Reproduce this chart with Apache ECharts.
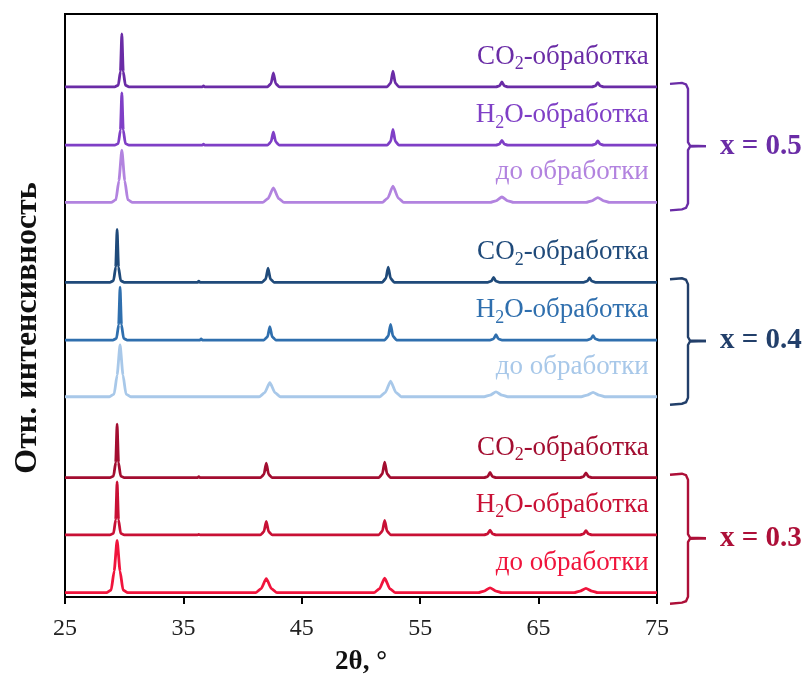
<!DOCTYPE html>
<html>
<head>
<meta charset="utf-8">
<script src="https://cdn.jsdelivr.net/npm/echarts@6/dist/echarts.min.js"></script>
<style>
  html, body { margin: 0; padding: 0; background: #fff; }
  #main { width: 810px; height: 675px; }
</style>
</head>
<body>
<div id="main"></div>
<script>
// Дифрактограммы, x = 0.3 / 0.4 / 0.5, до и после обработки

var xTicks = [25, 35, 45, 55, 65, 75];
var groupNames = ['x = 0.5', 'x = 0.4', 'x = 0.3'];
var treatNames = ['CO2', 'H2O', 'raw'];

// сдвиги базовых линий (снизу вверх: 0.3 до, H2O, CO2, 0.4 ..., 0.5 ...)
var offsets05 = [945, 837, 731];
var offsets04 = [583, 476, 371];
var offsets03 = [221, 115, 8];

// [2θ, отн. интенсивность]
var p05co2 = [[25,0],[29.2,0],[29.5,3],[29.68,28],[29.8,98],[29.92,28],[30.1,3],[30.4,0],[36.6,0],[36.7,2],[36.8,0],[42.1,0],[42.4,6],[42.6,26],[42.8,6],[43.1,0],[52.2,0],[52.5,7],[52.7,29],[52.9,7],[53.2,0],[61.4,0],[61.7,2],[61.9,9],[62.1,2],[62.4,0],[69.5,0],[69.8,2],[70.0,8],[70.2,2],[70.5,0],[75,0]];
var p05h2o = [[25,0],[29.2,0],[29.5,3],[29.68,28],[29.8,97],[29.92,28],[30.1,3],[30.4,0],[36.6,0],[36.7,2],[36.8,0],[42.1,0],[42.4,6],[42.6,24],[42.8,6],[43.1,0],[52.2,0],[52.5,7],[52.7,29],[52.9,7],[53.2,0],[61.4,0],[61.7,2],[61.9,9],[62.1,2],[62.4,0],[69.5,0],[69.8,2],[70.0,8],[70.2,2],[70.5,0],[75,0]];
var p05raw = [[25,0],[28.9,0],[29.3,5],[29.55,40],[29.8,97],[30.05,40],[30.3,5],[30.7,0],[41.7,0],[42.15,7],[42.6,27],[43.05,7],[43.5,0],[51.8,0],[52.25,8],[52.7,30],[53.15,8],[53.6,0],[60.9,0],[61.4,3],[61.9,10],[62.4,3],[62.9,0],[69.0,0],[69.5,3],[70.0,9],[70.5,3],[71.0,0],[75,0]];

var p04co2 = [[25,0],[28.8,0],[29.1,3],[29.28,28],[29.4,98],[29.52,28],[29.7,3],[30.0,0],[36.2,0],[36.3,2],[36.4,0],[41.65,0],[41.95,6],[42.15,26],[42.35,6],[42.65,0],[51.8,0],[52.1,7],[52.3,28],[52.5,7],[52.8,0],[60.7,0],[61.0,2],[61.2,9],[61.4,2],[61.7,0],[68.8,0],[69.1,2],[69.3,8],[69.5,2],[69.8,0],[75,0]];
var p04h2o = [[25,0],[29.05,0],[29.35,3],[29.53,28],[29.65,98],[29.77,28],[29.95,3],[30.25,0],[36.4,0],[36.5,2],[36.6,0],[41.8,0],[42.1,6],[42.3,25],[42.5,6],[42.8,0],[52.0,0],[52.3,7],[52.5,29],[52.7,7],[53.0,0],[60.9,0],[61.2,2],[61.4,10],[61.6,2],[61.9,0],[69.1,0],[69.4,2],[69.6,8],[69.8,2],[70.1,0],[75,0]];
var p04raw = [[25,0],[28.75,0],[29.15,5],[29.4,40],[29.65,96],[29.9,40],[30.15,5],[30.55,0],[41.4,0],[41.85,7],[42.3,26],[42.75,7],[43.2,0],[51.6,0],[52.05,8],[52.5,29],[52.95,8],[53.4,0],[60.4,0],[60.9,3],[61.4,9],[61.9,3],[62.4,0],[68.6,0],[69.1,3],[69.6,8],[70.1,3],[70.6,0],[75,0]];

var p03co2 = [[25,0],[28.8,0],[29.1,3],[29.28,28],[29.4,99],[29.52,28],[29.7,3],[30.0,0],[36.2,0],[36.3,2],[36.4,0],[41.5,0],[41.8,6],[42.0,27],[42.2,6],[42.5,0],[51.5,0],[51.8,7],[52.0,29],[52.2,7],[52.5,0],[60.4,0],[60.7,2],[60.9,10],[61.1,2],[61.4,0],[68.5,0],[68.8,2],[69.0,9],[69.2,2],[69.5,0],[75,0]];
var p03h2o = [[25,0],[28.8,0],[29.1,3],[29.28,28],[29.4,98],[29.52,28],[29.7,3],[30.0,0],[36.2,0],[36.3,1],[36.4,0],[41.5,0],[41.8,6],[42.0,25],[42.2,6],[42.5,0],[51.5,0],[51.8,7],[52.0,27],[52.2,7],[52.5,0],[60.4,0],[60.7,2],[60.9,9],[61.1,2],[61.4,0],[68.5,0],[68.8,2],[69.0,8],[69.2,2],[69.5,0],[75,0]];
var p03raw = [[25,0],[28.5,0],[28.9,5],[29.15,40],[29.4,97],[29.65,40],[29.9,5],[30.3,0],[41.1,0],[41.55,7],[42.0,26],[42.45,7],[42.9,0],[51.1,0],[51.55,7],[52.0,27],[52.45,7],[52.9,0],[59.9,0],[60.4,3],[60.9,9],[61.4,3],[61.9,0],[68.0,0],[68.5,3],[69.0,8],[69.5,3],[70.0,0],[75,0]];

var colors05 = ['#6a2ca6', '#7f3fc6', '#b283df'];
var colors04 = ['#1f4a7a', '#2f6fae', '#a8c8e9'];
var colors03 = ['#a30d30', '#c81035', '#f0143c'];
var groupColors = ['#6a2ca6', '#223f6a', '#ad0f38'];

var groups = [
    { patterns: [p05co2, p05h2o, p05raw], offsets: offsets05, colors: colors05 },
    { patterns: [p04co2, p04h2o, p04raw], offsets: offsets04, colors: colors04 },
    { patterns: [p03co2, p03h2o, p03raw], offsets: offsets03, colors: colors03 }
];

var serif = '"Liberation Serif", "Times New Roman", serif';

var series = [];
groups.forEach(function (g, gi) {
    g.patterns.forEach(function (p, pi) {
        var off = g.offsets[pi];
        series.push({
            name: groupNames[gi] + ' ' + treatNames[pi],
            type: 'line',
            showSymbol: false,
            smooth: 0.2,
            smoothMonotone: 'x',
            lineStyle: { color: g.colors[pi], width: 2.8 },
            data: p.map(function (d) { return [d[0], d[1] + off]; }),
            z: 3
        });
    });
});

var dom = document.getElementById('main');
var myChart = echarts.init(dom, null, { renderer: 'canvas' });

var option = {
    animation: false,
    grid: {
        left: 65, right: 153, top: 14, bottom: 78,
        outerBoundsMode: 'none',
        show: true, borderColor: '#000', borderWidth: 2
    },
    xAxis: {
        type: 'value',
        min: 25,
        max: 75,
        name: '2θ, °',
        nameLocation: 'middle',
        nameGap: 52,
        nameTextStyle: { fontFamily: serif, fontWeight: 'bold', fontSize: 27, color: '#111' },
        axisLine: { lineStyle: { color: '#000', width: 2 } },
        axisTick: { show: true, length: 7, lineStyle: { color: '#000', width: 2 }, customValues: xTicks },
        axisLabel: { fontFamily: serif, fontSize: 24, color: '#222', margin: 20, customValues: xTicks },
        splitLine: { show: false }
    },
    yAxis: {
        type: 'value',
        min: 0,
        max: 1080,
        axisLine: { show: true, lineStyle: { color: '#000', width: 2 } },
        axisTick: { show: false },
        axisLabel: { show: false },
        splitLine: { show: false }
    },
    series: series
};

myChart.setOption(option);

// подписи и скобки
var richLabel = {
    a: { fontFamily: serif, fontSize: 27 },
    s: { fontFamily: serif, fontSize: 18, verticalAlign: 'bottom', padding: [16, 0, 0, 0] }
};
var labelTexts = ['{a|CO}{s|2}{a|-обработка}', '{a|H}{s|2}{a|O-обработка}', '{a|до обработки}'];

var graphics = [{
    type: 'text',
    x: 28, y: 328,
    rotation: Math.PI / 2,
    style: {
        text: 'Отн. интенсивность',
        font: 'bold 32px ' + serif,
        fill: '#111',
        align: 'center',
        verticalAlign: 'middle'
    }
}];
groups.forEach(function (g, gi) {
    g.offsets.forEach(function (off, pi) {
        var pt = myChart.convertToPixel({ gridIndex: 0 }, [74.3, off + 56]);
        graphics.push({
            type: 'text',
            x: pt[0], y: pt[1],
            style: {
                text: labelTexts[pi],
                rich: richLabel,
                fill: g.colors[pi],
                align: 'right',
                verticalAlign: 'middle'
            },
            z: 10
        });
    });
    var top = myChart.convertToPixel({ gridIndex: 0 }, [75, g.offsets[0]])[1] - 4;
    var bot = myChart.convertToPixel({ gridIndex: 0 }, [75, g.offsets[2]])[1] + 7 + (gi === 2 ? 3 : 0);
    var mid = (top + bot) / 2;
    var col = groupColors[gi];
    graphics.push({
        type: 'polyline',
        shape: { points: [[670, top + 1], [682, top], [686, top + 1.5], [688, top + 6], [688, mid - 4], [690, mid - 0.5], [706, mid]] },
        style: { stroke: col, lineWidth: 2.4, fill: null }
    });
    graphics.push({
        type: 'polyline',
        shape: { points: [[706, mid], [690, mid + 0.5], [688, mid + 4], [688, bot - 6], [686, bot - 1.5], [682, bot], [670, bot + 1]] },
        style: { stroke: col, lineWidth: 2.4, fill: null }
    });
    graphics.push({
        type: 'text',
        x: 720, y: mid,
        style: {
            text: groupNames[gi],
            fill: col,
            font: 'bold 29px ' + serif,
            verticalAlign: 'middle'
        }
    });
});

myChart.setOption({ graphic: graphics });

window.addEventListener('resize', myChart.resize);
</script>
</body>
</html>
